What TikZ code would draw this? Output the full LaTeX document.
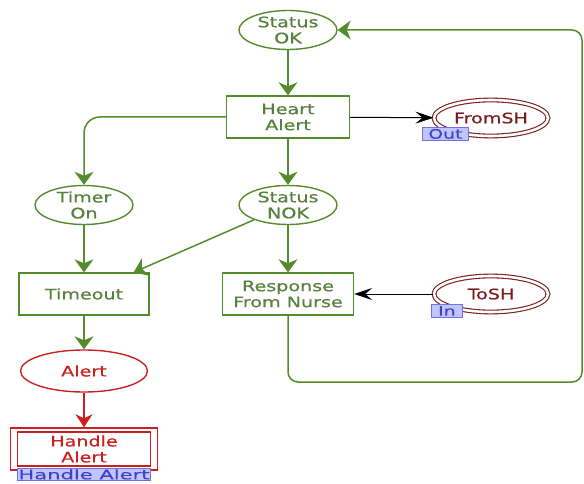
\documentclass[tikz,border=0pt]{standalone}
\usepackage{fontspec}
\usetikzlibrary{shapes.geometric,arrows.meta,calc}
\newfontfamily\netfont[FakeStretch=1.32,FakeBold=0.6]{DejaVu Sans}
\newfontfamily\tagfont[FakeStretch=1.45,FakeBold=0.4]{DejaVu Sans}
\newfontfamily\widetagfont[FakeStretch=1.62,FakeBold=0.4]{DejaVu Sans}
\definecolor{netgreen}{RGB}{84,140,44}
\definecolor{txtgreen}{RGB}{86,128,60}
\definecolor{maroon}{RGB}{122,28,30}
\definecolor{alertred}{RGB}{204,32,32}
\definecolor{tagfill}{RGB}{192,198,252}
\definecolor{tagline}{RGB}{112,112,228}
\definecolor{tagtext}{RGB}{64,64,200}
\tikzset{
  every node/.style={font=\netfont\fontsize{14.5}{16}\selectfont, align=center},
  place/.style={ellipse, draw=netgreen, line width=1.4pt, text=txtgreen,
    minimum width=98pt, minimum height=39pt, inner sep=0pt},
  trans/.style={rectangle, draw=netgreen, line width=1.4pt, text=txtgreen,
    minimum height=42pt, inner sep=0pt},
  portplace/.style={ellipse, draw=maroon, line width=1.1pt, double=white,
    double distance=2.6pt, text=maroon, minimum width=114pt, minimum height=36pt,
    inner sep=0pt},
  porttag/.style={rectangle, draw=tagline, fill=tagfill, text=tagtext,
    line width=0.8pt, inner sep=0pt, minimum height=13pt,
    font=\tagfont\fontsize{13}{13}\selectfont},
  arc/.style={draw=netgreen, line width=1.5pt,
    -{Stealth[length=13pt,width=19pt,inset=4pt]}},
  blackarc/.style={draw=black, line width=1pt,
    -{Stealth[length=18pt,width=12pt,inset=7pt]}},
  redarc/.style={draw=alertred, line width=1.5pt,
    -{Stealth[length=13pt,width=17pt,inset=4pt]}},
}
\begin{document}
\begin{tikzpicture}[x=1pt,y=-1pt]
\useasboundingbox (0,0) rectangle (584,484);

% places and transitions of the main net
\node[place] (sok) at (288,30) {Status\\OK};
\node[trans, minimum width=123pt] (heart) at (288,117) {Heart\\Alert};
\node[place] (timer) at (84,205) {Timer\\On};
\node[place] (snok) at (288,205) {Status\\NOK};
\node[trans, minimum width=130pt] (tout) at (84,294) {Timeout};
\node[trans, minimum width=131pt] (resp) at (288,294) {Response\\From Nurse};
\node[ellipse, draw=alertred, line width=1.4pt, text=alertred,
  minimum width=127pt, minimum height=42pt, inner sep=0pt] (alert) at (84,371) {Alert};

% port places
\node[portplace] (from) at (491,118) {FromSH};
\node[porttag, minimum width=46pt, anchor=north west] (outtag) at (422,127) {Out};
\node[portplace] (tosh) at (491,294) {ToSH};
\node[porttag, minimum width=31pt, anchor=north west] (intag) at (431,304) {In};

% substitution transition
\node[rectangle, draw=alertred, line width=1.4pt, minimum width=147pt,
  minimum height=42pt] (hframe) at (84,449) {};
\node[rectangle, draw=alertred, line width=1.3pt, text=alertred,
  minimum width=133pt, minimum height=34pt, inner sep=0pt] (handle) at (84,449) {Handle\\Alert};
\node[porttag, minimum width=133pt, minimum height=12pt,
  font=\widetagfont\fontsize{13}{13}\selectfont,
  anchor=north] (htag) at (84,468) {Handle Alert};

% arcs
\draw[arc] (sok) -- (heart);
\draw[blackarc] (heart) -- (from);
\draw[arc, rounded corners=16pt] (heart.west) -| (timer.north);
\draw[arc] (heart) -- (snok);
\draw[arc] (timer) -- (tout);
\draw[arc] (snok) -- ($(tout.north east)+(-16,0)$);
\draw[arc] (snok) -- (resp);
\draw[blackarc] (tosh) -- (resp);
\draw[arc, rounded corners=10pt] (resp.south) |- (582,382) |- (sok.east);
\draw[arc] (tout) -- (alert);
\draw[redarc] (alert) -- (hframe);
\end{tikzpicture}
\end{document}
